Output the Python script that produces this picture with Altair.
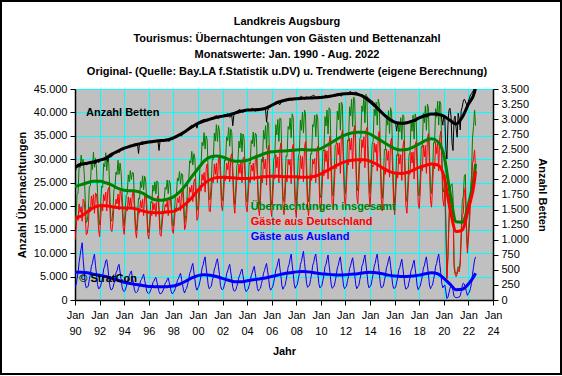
import altair as alt
import pandas as pd

FONT = "Liberation Sans"

JAHRE = list(range(1990, 2023))

# Monatswerte (Jan..Dez), Übernachtungen in Hundert
uebernachtungen_insgesamt = [
    [156,183,225,228,285,282,309,290,300,270,213,165],
    [169,190,242,243,294,278,315,283,302,281,229,174],
    [160,202,243,240,291,284,314,276,304,290,228,172],
    [168,191,235,240,273,267,298,268,292,272,227,175],
    [158,191,223,226,267,252,276,257,272,271,214,164],
    [148,178,217,215,253,240,265,235,264,256,207,155],
    [144,172,210,207,245,232,252,226,254,250,202,153],
    [150,176,206,212,240,236,256,227,255,248,207,161],
    [158,187,221,226,260,254,274,247,270,267,218,165],
    [180,205,252,256,297,292,317,288,312,303,245,191],
    [201,235,285,284,336,329,357,322,350,342,274,214],
    [215,251,301,300,356,339,374,338,372,360,287,223],
    [212,245,299,297,348,340,368,328,365,357,287,225],
    [204,246,287,294,339,324,356,316,354,344,286,218],
    [209,241,293,290,340,333,358,327,356,352,281,217],
    [203,237,300,294,362,343,372,323,380,376,287,216],
    [203,246,300,307,374,352,385,338,388,386,295,223],
    [210,245,308,306,370,364,388,346,397,388,293,220],
    [206,253,305,314,384,362,400,356,405,398,298,225],
    [209,242,312,311,374,370,394,348,396,386,303,226],
    [218,259,320,318,391,371,405,354,410,406,306,230],
    [222,268,330,332,403,384,420,362,422,416,317,239],
    [227,275,341,339,412,393,428,370,433,426,333,246],
    [233,273,345,346,414,402,436,378,439,425,330,252],
    [227,272,332,339,407,393,422,373,428,418,327,241],
    [217,256,321,320,391,373,404,355,410,400,309,230],
    [207,252,310,308,376,359,389,342,395,391,299,223],
    [210,253,308,315,378,360,394,343,397,388,305,228],
    [222,262,328,326,398,378,414,362,418,409,316,236],
    [227,272,336,335,408,390,424,373,424,418,323,241],
    [230,267,168,48,96,175,235,245,248,220,78,61],
    [55,60,71,66,84,148,210,221,264,268,168,110],
    [144,177,235,265,345,370,405,372],
]

gaeste_deutschland = [
    [128,151,180,170,205,187,199,168,215,210,178,139],
    [142,160,198,188,222,200,225,185,228,226,196,150],
    [135,172,205,190,225,212,230,190,234,240,198,150],
    [146,165,200,198,215,205,226,192,232,228,200,155],
    [140,170,195,190,220,200,218,195,224,235,192,148],
    [132,160,192,185,212,196,215,180,222,225,188,140],
    [130,156,188,180,208,192,206,178,216,222,184,140],
    [136,160,185,186,204,198,212,180,218,220,190,148],
    [142,168,196,194,218,208,222,190,226,234,198,150],
    [158,180,218,212,240,230,245,210,252,258,218,170],
    [175,205,245,232,268,255,272,230,280,290,242,190],
    [188,222,260,250,290,268,292,250,300,306,256,200],
    [190,220,265,255,292,278,298,252,305,312,260,205],
    [185,224,258,256,290,270,295,250,302,305,262,200],
    [188,218,262,250,288,275,292,255,300,310,256,198],
    [180,212,265,250,305,280,300,245,318,330,260,195],
    [178,218,262,258,310,282,305,250,320,335,265,200],
    [182,214,266,252,300,288,300,248,322,332,260,195],
    [176,220,260,258,308,280,306,252,325,338,262,198],
    [180,210,268,255,300,290,302,250,316,328,268,200],
    [190,228,278,265,320,295,318,258,335,350,272,205],
    [195,238,290,280,335,310,335,270,350,362,285,215],
    [200,246,300,288,345,320,345,280,360,372,300,222],
    [205,242,302,292,342,325,348,282,362,368,296,226],
    [198,240,288,284,335,315,332,275,350,360,292,215],
    [190,226,280,268,322,298,318,262,336,345,276,205],
    [182,224,272,260,312,290,310,255,326,340,268,200],
    [185,226,270,268,315,292,316,258,330,338,275,206],
    [195,232,288,275,330,305,330,270,345,355,284,212],
    [198,240,292,280,336,312,334,275,346,360,288,215],
    [200,235,150,45,90,160,210,215,220,200,70,55],
    [50,55,65,60,75,130,180,185,230,240,150,100],
    [130,160,210,230,290,300,320,280],
]

gaeste_ausland = [
    [28,32,45,58,80,95,110,122,85,60,35,26],
    [27,30,44,55,72,78,90,98,74,55,33,24],
    [25,30,38,50,66,72,84,86,70,50,30,22],
    [22,26,35,42,58,62,72,76,60,44,27,20],
    [18,21,28,36,47,52,58,62,48,36,22,16],
    [16,18,25,30,41,44,50,55,42,31,19,15],
    [14,16,22,27,37,40,46,48,38,28,18,13],
    [14,16,21,26,36,38,44,47,37,28,17,13],
    [16,19,25,32,42,46,52,57,44,33,20,15],
    [22,25,34,44,57,62,72,78,60,45,27,21],
    [26,30,40,52,68,74,85,92,70,52,32,24],
    [27,29,41,50,66,71,82,88,72,54,31,23],
    [22,25,34,42,56,62,70,76,60,45,27,20],
    [19,22,29,38,49,54,61,66,52,39,24,18],
    [21,23,31,40,52,58,66,72,56,42,25,19],
    [23,25,35,44,57,63,72,78,62,46,27,21],
    [25,28,38,49,64,70,80,88,68,51,30,23],
    [28,31,42,54,70,76,88,98,75,56,33,25],
    [30,33,45,56,76,82,94,104,80,60,36,27],
    [29,32,44,56,74,80,92,98,80,58,35,26],
    [28,31,42,53,71,76,87,96,75,56,34,25],
    [27,30,40,52,68,74,85,92,72,54,32,24],
    [27,29,41,51,67,73,83,90,73,54,33,24],
    [28,31,43,54,72,77,88,96,77,57,34,26],
    [29,32,44,55,72,78,90,98,78,58,35,26],
    [27,30,41,52,69,75,86,93,74,55,33,25],
    [25,28,38,48,64,69,79,87,69,51,31,23],
    [25,27,38,47,63,68,78,85,67,50,30,22],
    [27,30,40,51,68,73,84,92,73,54,32,24],
    [29,32,44,55,72,78,90,98,78,58,35,26],
    [30,32,18,3,6,15,25,30,28,20,8,6],
    [5,5,6,6,9,18,30,36,34,28,18,10],
    [14,17,25,35,55,70,85,92],
]

# Anzahl Betten, Monatswerte in Zehn
betten_monat = [
    [210,218,224,226,225,227,228,226,227,225,226,224],
    [225,226,228,227,229,230,228,227,226,229,230,228],
    [229,231,233,232,234,236,235,233,230,236,238,237],
    [238,240,243,244,246,247,248,245,246,249,250,249],
    [250,252,254,253,255,256,257,255,254,258,259,258],
    [258,259,243,260,261,262,263,261,260,262,263,262],
    [262,263,264,263,264,265,264,263,262,264,248,263],
    [263,264,265,264,266,267,266,264,263,266,267,266],
    [267,268,270,271,273,274,275,273,272,276,278,279],
    [280,282,284,285,287,289,290,288,287,291,293,285],
    [292,294,296,297,298,299,300,298,297,299,300,299],
    [300,301,302,303,304,305,306,302,301,305,306,305],
    [305,306,307,306,308,309,305,303,304,307,289,306],
    [310,312,313,314,315,316,314,312,311,315,316,315],
    [314,315,316,315,317,318,316,314,313,316,317,316],
    [315,316,317,318,316,317,315,295,314,318,320,321],
    [322,323,325,326,327,328,327,325,324,328,329,330],
    [330,331,332,333,334,335,334,332,331,333,334,333],
    [333,334,335,336,337,338,336,334,333,336,337,336],
    [335,336,337,338,339,340,338,336,334,337,338,336],
    [336,337,338,337,339,340,338,337,336,338,339,338],
    [338,339,340,341,342,343,341,339,338,341,342,341],
    [341,342,343,344,345,346,344,342,341,344,345,344],
    [343,342,341,340,341,340,338,336,335,337,336,334],
    [332,331,330,329,327,325,322,320,318,316,314,312],
    [310,309,307,306,305,303,301,299,298,297,296,295],
    [294,293,280,294,295,294,293,292,291,293,294,295],
    [295,296,296,297,297,298,298,297,296,298,299,300],
    [301,302,303,304,305,306,305,304,303,306,307,308],
    [308,309,309,310,310,311,310,308,306,308,300,290],
    [306,300,250,234,290,315,318,305,260,248,300,305],
    [285,270,310,300,282,315,320,330,333,330,325,320],
    [330,335,340,342,345,348,352,356],
]

# Trendwerte, halbjährlich (Jan, Jul) 1990 .. Jul 2022, dann Aug 2022
trend_insgesamt = [
    24.2,24.6, 25.0,25.3, 25.3,25.0, 24.5,23.8, 23.4,23.3, 23.2,22.8, 22.0,21.4,
    21.3,21.5, 22.0,23.0, 24.5,26.3, 28.0,29.6, 30.5,30.7, 30.5,30.0, 29.6,29.6,
    29.8,30.3, 30.8,31.3, 31.6,31.7, 31.8,31.9, 32.0,32.1, 32.0,32.0, 32.3,33.0,
    33.8,34.6, 35.2,35.6, 35.8,35.8, 35.4,34.6, 33.8,33.0, 32.3,32.0, 32.1,32.6,
    33.3,34.0, 34.4,33.8, 31.0,23.0, 16.7,16.6, 20.4,27.0, 29.0,
]
trend_deutschland = [
    17.5,17.9, 18.8,19.7, 20.1,20.1, 19.9,19.7, 19.6,19.6, 19.4,19.0, 18.7,18.6,
    18.6,18.8, 18.9,19.5, 20.5,21.8, 23.4,24.8, 25.7,26.1, 26.2,26.1, 26.0,25.9,
    25.9,26.0, 26.2,26.3, 26.4,26.4, 26.3,26.3, 26.3,26.2, 26.2,26.4, 26.9,27.6,
    28.3,29.0, 29.5,29.8, 29.9,29.9, 29.6,29.0, 28.2,27.5, 27.1,27.0, 27.2,27.7,
    28.3,28.7, 29.0,28.8, 26.5,19.5, 14.6,14.9, 19.5,25.5, 27.5,
]
trend_ausland = [
    5.9,5.9, 5.8,5.5, 5.3,5.0, 4.6,4.2, 3.8,3.5, 3.3,3.1, 2.9,2.85,
    2.8,2.85, 3.0,3.4, 4.0,4.7, 5.2,5.4, 5.3,5.0, 4.6,4.2, 3.9,3.9,
    4.1,4.3, 4.5,4.7, 5.0,5.3, 5.6,5.8, 6.0,6.1, 6.0,5.8, 5.6,5.5,
    5.4,5.35, 5.4,5.5, 5.6,5.8, 5.9,5.8, 5.6,5.3, 5.1,5.0, 5.0,5.1,
    5.3,5.6, 5.8,5.6, 4.6,3.4, 2.2,2.3, 3.4,5.3, 5.7,
]
trend_betten = [
    2200,2250, 2270,2290, 2320,2350, 2420,2470, 2520,2550, 2580,2600, 2620,2635,
    2645,2655, 2690,2740, 2800,2870, 2930,2970, 3000,3030, 3050,3070, 3100,3130,
    3150,3155, 3160,3180, 3230,3280, 3310,3330, 3340,3345, 3350,3355, 3360,3370,
    3390,3410, 3420,3425, 3410,3370, 3290,3200, 3100,3010, 2950,2930, 2940,2970,
    3020,3060, 3085,3080, 3050,2980, 2920,3030, 3250,3450, 3530,
]

titel = [
    "Landkreis Augsburg",
    "Tourismus: Übernachtungen von Gästen und Bettenanzahl",
    "Monatswerte: Jan. 1990 - Aug. 2022",
    "Original- (Quelle: Bay.LA f.Statistik u.DV) u. Trendwerte (eigene Berechnung)",
]

x_ticks = list(range(1990, 2025, 2))
links_ticks = list(range(0, 45001, 5000))
rechts_ticks = list(range(0, 3501, 250))

# Beschriftungen im Diagramm (Zeitpunkt, Wert auf linker Achse)
label_text = ["Anzahl Betten", "Übernachtungen insgesamt", "Gäste aus Deutschland",
              "Gäste aus Ausland", "© StratCon"]
label_t = [1990.9, 2004.3, 2004.3, 2004.3, 1990.35]
label_wert = [39900, 19900, 16650, 13450, 4480]
label_farbe = ["#000000", "#008000", "#FF0000", "#0000FF", "#000000"]

# ---- Tabellen aufbauen ----
rows = []
for i, jahr in enumerate(JAHRE):
    for m in range(len(uebernachtungen_insgesamt[i])):
        t = jahr + m / 12
        rows.append({"t": t, "serie": "insg", "wert": uebernachtungen_insgesamt[i][m] * 100})
        rows.append({"t": t, "serie": "de", "wert": gaeste_deutschland[i][m] * 100})
        rows.append({"t": t, "serie": "aus", "wert": gaeste_ausland[i][m] * 100})
        rows.append({"t": t, "serie": "betten", "wert": betten_monat[i][m] * 10})
monat = pd.DataFrame(rows)

trend_t = [1990 + 0.5 * k for k in range(66)] + [2022 + 7 / 12]
trows = []
for k, t in enumerate(trend_t):
    trows.append({"t": t, "serie": "insg", "wert": trend_insgesamt[k] * 1000})
    trows.append({"t": t, "serie": "de", "wert": trend_deutschland[k] * 1000})
    trows.append({"t": t, "serie": "aus", "wert": trend_ausland[k] * 1000})
    trows.append({"t": t, "serie": "betten", "wert": trend_betten[k]})
trend = pd.DataFrame(trows)

labels = pd.DataFrame({"t": label_t, "wert": label_wert, "text": label_text, "farbe": label_farbe})

ger = "replace(format(datum.value, ','), ',', '.')"

X = alt.X(
    "t:Q",
    scale=alt.Scale(domain=[1990, 2024], nice=False, zero=False),
    axis=alt.Axis(
        values=x_ticks,
        labelExpr="['Jan', substring(toString(datum.value), 2, 4)]",
        title="Jahr",
        grid=True, gridColor="#00FFFF", gridOpacity=1, gridWidth=1,
        domainColor="#000000", domainWidth=1.5, tickColor="#000000", tickSize=5,
        labelFont=FONT, labelFontSize=11, labelColor="#000000",
        labelLineHeight=16, labelPadding=4, labelFlush=False,
        titleFont=FONT, titleFontSize=11, titleFontWeight="bold",
        titleColor="#000000", titlePadding=9,
    ),
)

Y_L = alt.Y(
    "wert:Q",
    scale=alt.Scale(domain=[0, 45000], nice=False),
    axis=alt.Axis(
        values=links_ticks, labelExpr=ger, title="Anzahl Übernachtungen",
        grid=True, gridColor="#00FFFF", gridOpacity=1, gridWidth=1,
        domainColor="#000000", domainWidth=1.5, tickColor="#000000", tickSize=5,
        labelFont=FONT, labelFontSize=11, labelColor="#000000", labelPadding=3,
        titleFont=FONT, titleFontSize=11, titleFontWeight="bold",
        titleColor="#000000", titlePadding=6,
    ),
)

Y_R = alt.Y(
    "wert:Q",
    scale=alt.Scale(domain=[0, 3500], nice=False),
    axis=alt.Axis(
        orient="right", values=rechts_ticks, labelExpr=ger, title="Anzahl Betten",
        grid=False, domainColor="#000000", domainWidth=1.5, tickColor="#000000",
        tickSize=5, labelFont=FONT, labelFontSize=11, labelColor="#000000",
        labelPadding=3, titleFont=FONT, titleFontSize=11, titleFontWeight="bold",
        titleColor="#000000", titlePadding=8,
    ),
)


def linie(df, serie, farbe, breite, y, smooth=False):
    mk = dict(color=farbe, strokeWidth=breite, clip=True)
    if smooth:
        mk["interpolate"] = "monotone"
    return (
        alt.Chart(df)
        .transform_filter(alt.datum.serie == serie)
        .mark_line(**mk)
        .encode(x=X, y=y)
    )


texte = alt.Chart(labels).mark_text(
    align="left", baseline="middle", font=FONT, fontSize=11, fontWeight="bold"
).encode(x=X, y=Y_L, text="text:N", color=alt.Color("farbe:N", scale=None))

eins = pd.DataFrame({"a": [0]})

# Titelzeilen (Pixel relativ zur Zeichenfläche)
titel_y = [-67, -50, -34, -17]
titel_layer = [
    alt.Chart(eins).mark_text(
        text=zeile, align="center", baseline="middle", font=FONT, fontSize=11,
        fontWeight="bold", color="#000000",
    ).encode(x=alt.value(212), y=alt.value(ty))
    for zeile, ty in zip(titel, titel_y)
]

rahmen = alt.Chart(eins).mark_rect(
    fill="transparent", stroke="#000000", strokeWidth=2
).encode(x=alt.value(-74), x2=alt.value(486), y=alt.value(-88), y2=alt.value(285))

links = alt.layer(
    linie(monat, "insg", "#008000", 1, Y_L),
    linie(monat, "de", "#FF0000", 1, Y_L),
    linie(monat, "aus", "#0000FF", 1, Y_L),
    linie(trend, "insg", "#008000", 3, Y_L, True),
    linie(trend, "de", "#FF0000", 3, Y_L, True),
    linie(trend, "aus", "#0000FF", 3, Y_L, True),
    texte,
    rahmen,
    *titel_layer,
)

rechts = alt.layer(
    linie(monat, "betten", "#000000", 1, Y_R),
    linie(trend, "betten", "#000000", 3, Y_R, True),
)

chart = (
    alt.layer(links, rechts)
    .resolve_scale(y="independent")
    .properties(
        width=418,
        height=211,
        autosize=alt.AutoSizeParams(type="none"),
        padding={"left": 75, "top": 89, "right": 69, "bottom": 76},
        background="#FFFFFF",
    )
    .configure_view(fill="#C0C0C0", stroke="#808080", strokeWidth=1)
)

chart.save("out.html", embed_options={"renderer": "svg", "actions": False})
